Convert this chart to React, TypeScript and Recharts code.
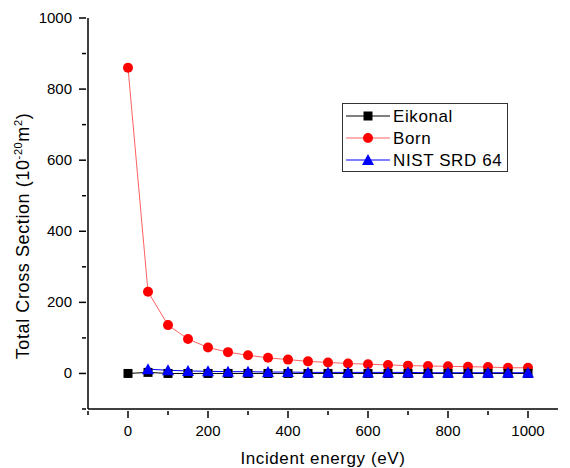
import React from "react";
import { ComposedChart, Line, XAxis, YAxis } from "recharts";

document.body.style.margin = "0";

const energies = [0, 50, 100, 150, 200, 250, 300, 350, 400, 450, 500, 550, 600, 650, 700, 750, 800, 850, 900, 950, 1000];
const eikonal = [0, 3, 0, 0, 0, 0, 0, 0, 0, 0, 0, 0, 0, 0, 0, 0, 0, 0, 0, 0, 0];
const born = [860, 230, 136, 97, 73, 60, 51, 44, 39, 34, 31, 28, 26, 24, 22, 21, 20, 19, 18, 16, 16];
const nist = [null, 12, 9, 7, 6, 5, 5, 4, 4, 3, 3, 3, 3, 3, 3, 2, 2, 2, 2, 2, 2];

const xTicks = [-100, 0, 100, 200, 300, 400, 500, 600, 700, 800, 900, 1000];
const yTicks = [-100, 0, 100, 200, 300, 400, 500, 600, 700, 800, 900, 1000];

const rows = energies.map((e, i) => ({ e, eikonal: eikonal[i], born: born[i], nist: nist[i] }));

const FONT = "'Liberation Sans', Arial, sans-serif";

function Square(p: any) {
  if (p.cx == null || p.cy == null) return null;
  return <rect x={p.cx - 4.5} y={p.cy - 4.5} width={9} height={9} fill="#000" />;
}
function Circle(p: any) {
  if (p.cx == null || p.cy == null) return null;
  return <circle cx={p.cx} cy={p.cy} r={5} fill="#ff0000" />;
}
function Tri(p: any) {
  if (p.cx == null || p.cy == null) return null;
  const { cx, cy } = p;
  return <polygon points={`${cx},${cy - 6} ${cx + 6},${cy + 5} ${cx - 6},${cy + 5}`} fill="#0000ff" />;
}

function XTick(p: any) {
  const v = p.payload.value;
  const major = v % 200 === 0;
  return (
    <g>
      <line x1={p.x} x2={p.x} y1={p.y} y2={p.y + (major ? 7 : 4)} stroke="#000" strokeWidth={1.5} />
      {major && v >= 0 && (
        <text x={p.x} y={p.y + 25} textAnchor="middle" fontSize={15} fontFamily={FONT} fill="#000">
          {v}
        </text>
      )}
    </g>
  );
}

function YTick(p: any) {
  const v = p.payload.value;
  const major = v % 200 === 0;
  return (
    <g>
      <line x1={p.x} x2={p.x - (major ? 7 : 4)} y1={p.y} y2={p.y} stroke="#000" strokeWidth={1.5} />
      {major && v >= 0 && (
        <text x={p.x - 14} y={p.y + 5} textAnchor="end" fontSize={15} fontFamily={FONT} fill="#000">
          {v}
        </text>
      )}
    </g>
  );
}

function YLabel() {
  return (
    <text
      transform="translate(29,236) rotate(-90)"
      textAnchor="middle"
      fontSize={18}
      letterSpacing={0.6}
      fontFamily={FONT}
      fill="#000"
    >
      Total Cross Section (10
      <tspan dy={-7} fontSize={11}>-20</tspan>
      <tspan dy={7}>m</tspan>
      <tspan dy={-7} fontSize={11}>2</tspan>
      <tspan dy={7}>)</tspan>
    </text>
  );
}

const legendItems = [
  { name: "Eikonal", color: "#000", line: "#000", marker: "square" },
  { name: "Born", color: "#ff0000", line: "#ff6060", marker: "circle" },
  { name: "NIST SRD 64", color: "#0000ff", line: "#0000ff", marker: "tri" },
];

function LegendBox() {
  return (
    <svg
      width={170}
      height={72}
      style={{ position: "absolute", left: 342, top: 103 }}
    >
      <rect x={0.5} y={0.5} width={165} height={68} fill="#fff" stroke="#333" />
      {legendItems.map((it, i) => {
        const cy = 13 + i * 22;
        return (
          <g key={it.name}>
            <line x1={4} x2={48} y1={cy} y2={cy} stroke={it.line} strokeWidth={1} />
            {it.marker === "square" && <rect x={21.5} y={cy - 4.5} width={9} height={9} fill={it.color} />}
            {it.marker === "circle" && <circle cx={26} cy={cy} r={5} fill={it.color} />}
            {it.marker === "tri" && (
              <polygon points={`26,${cy - 6} 32,${cy + 5} 20,${cy + 5}`} fill={it.color} />
            )}
            <text x={51} y={cy + 6} fontSize={17} letterSpacing={0.6} fontFamily={FONT} fill="#000">
              {it.name}
            </text>
          </g>
        );
      })}
    </svg>
  );
}

export default function App() {
  return (
    <div style={{ position: "relative", width: 570, height: 468, background: "#fff" }}>
      <ComposedChart
        width={570}
        height={468}
        data={rows}
        margin={{ top: 18, right: 12, left: 0, bottom: 0 }}
      >
        <XAxis
          dataKey="e"
          type="number"
          domain={[-100, 1075]}
          ticks={xTicks}
          tick={<XTick />}
          tickLine={false}
          tickSize={0}
          height={59}
          axisLine={{ stroke: "#000", strokeWidth: 1.5 }}
          label={{
            value: "Incident energy (eV)",
            position: "insideBottom",
            offset: 4,
            fontSize: 17,
            letterSpacing: 0.6,
            fontFamily: FONT,
            fill: "#000",
          }}
        />
        <YAxis
          type="number"
          domain={[-100, 1000]}
          ticks={yTicks}
          tick={<YTick />}
          tickLine={false}
          tickSize={0}
          width={88}
          axisLine={{ stroke: "#000", strokeWidth: 1.5 }}
          label={<YLabel />}
        />
        <Line dataKey="born" stroke="#ff6060" strokeWidth={1} dot={<Circle />} isAnimationActive={false} />
        <Line dataKey="eikonal" stroke="#000" strokeWidth={1} dot={<Square />} isAnimationActive={false} />
        <Line dataKey="nist" stroke="#0000ff" strokeWidth={1} dot={<Tri />} isAnimationActive={false} connectNulls />
      </ComposedChart>
      <LegendBox />
    </div>
  );
}
